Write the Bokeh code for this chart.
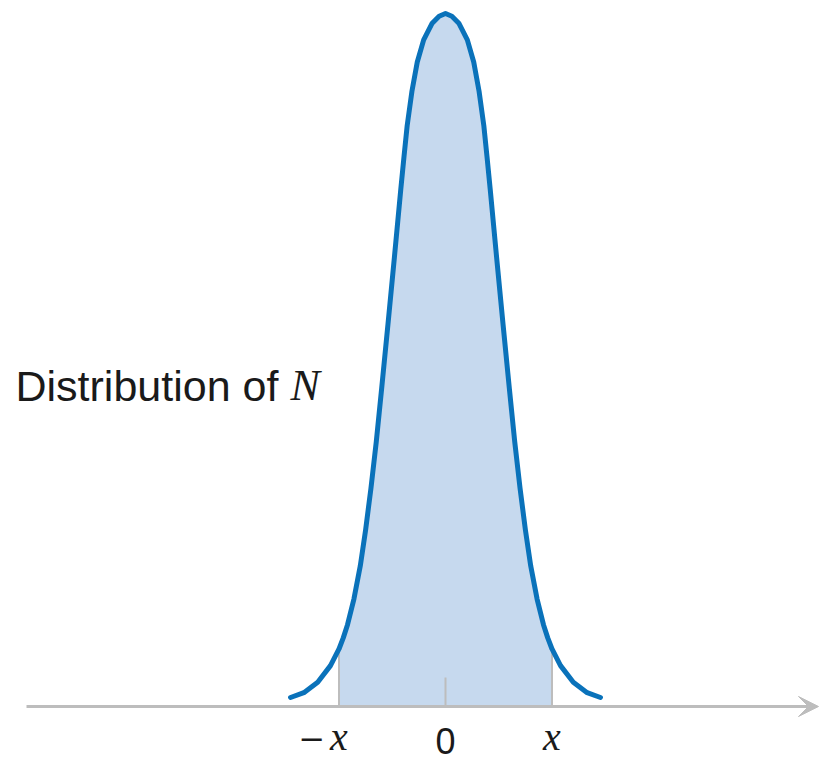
from bokeh.plotting import figure
from bokeh.models import Range1d, Arrow, VeeHead
from bokeh.core.properties import value
from bokeh.embed import file_html
from bokeh.resources import INLINE

# Density curve of N (symmetric about 0), right half: offset from the mean
# in units of x, and height relative to the peak.
curve_offset = [0.000, 0.060, 0.125, 0.205, 0.265, 0.315, 0.360, 0.390, 0.420,
                0.480, 0.540, 0.600, 0.650, 0.700, 0.750, 0.800, 0.860, 0.920,
                0.960, 1.000, 1.080, 1.200, 1.330, 1.455]
curve_height = [1.000, 0.996, 0.986, 0.962, 0.930, 0.888, 0.838, 0.793, 0.746,
                0.648, 0.552, 0.458, 0.382, 0.315, 0.255, 0.203, 0.155, 0.118,
                0.099, 0.083, 0.059, 0.035, 0.020, 0.013]

# Marked points on the horizontal axis
tick_values = [-1, 0, 1]
tick_signs = ["−", "", ""]
tick_symbols = ["x", "0", "x"]
shade_limit = 1.0  # area between -x and x is shaded

title_text = "Distribution of "
title_symbol = "N"

# full curve, mirrored about the mean
xs = [-o for o in reversed(curve_offset[1:])] + curve_offset
hs = list(reversed(curve_height[1:])) + curve_height

shade_x = [x for x in xs if -shade_limit <= x <= shade_limit]
shade_h = [h for x, h in zip(xs, hs) if -shade_limit <= x <= shade_limit]
edges = [v for v in tick_values if v != 0]
edge_h = [hs[xs.index(v)] for v in edges]

# canvas geometry (pixels)
W, H = 833, 761
ORIGIN_X, BASE_Y = 445.0, 706.0
PX_PER_X, PX_PER_H = 106.5, 693.0
BASELINE_SHIFT = 0.4  # svg text sits this many em below the requested baseline


def dx(px):
    return (px - ORIGIN_X) / PX_PER_X


def dy(py, size=0):
    return (BASE_Y - (py - BASELINE_SHIFT * size)) / PX_PER_H


BLUE = "#0a72ba"
FILL = "#c6d9ee"
GREY = "#bdbdbd"
INK = "#1a1a1a"

p = figure(width=W, height=H, x_range=Range1d(dx(0), dx(W)),
           y_range=Range1d(dy(H), dy(0)), x_axis_type=None, y_axis_type=None,
           toolbar_location=None, output_backend="svg", min_border=0)
p.outline_line_color = None
p.grid.visible = False
p.background_fill_color = "white"
p.border_fill_color = "white"

# shaded area between -x and x
p.varea(x=shade_x, y1=[0] * len(shade_x), y2=shade_h, fill_color=FILL)

# vertical guides at -x and x, and the short tick at 0
p.segment(x0=edges, y0=[0] * len(edges), x1=edges, y1=edge_h,
          line_color=GREY, line_width=2)
p.segment(x0=[0], y0=[0], x1=[0], y1=[29 / PX_PER_H], line_color=GREY, line_width=2)

# horizontal axis with arrow head
p.add_layout(Arrow(end=VeeHead(size=20, fill_color=GREY, line_color=GREY, line_width=1),
                   x_start=dx(26), y_start=0, x_end=dx(818), y_end=0,
                   line_color=GREY, line_width=3))

# density curve
p.line(xs, hs, line_color=BLUE, line_width=5, line_cap="round", line_join="round")

# tick labels
for v, sign, sym in zip(tick_values, tick_signs, tick_symbols):
    if sym == "0":
        p.text(x=[v], y=[dy(755, 36)], text=[sym], text_align="center",
               text_baseline="alphabetic", text_font=value("Liberation Sans"),
               text_font_size="36px", text_color=INK)
    else:
        p.text(x=[v], y=[dy(752, 40)], text=[sym], text_align="center",
               text_baseline="alphabetic", text_font=value("Liberation Serif"),
               text_font_style="italic", text_font_size="40px", text_color=INK)
    if sign:
        p.text(x=[v - 27 / PX_PER_X], y=[dy(751, 32)], text=[sign], text_align="center",
               text_baseline="alphabetic", text_font=value("DejaVu Serif"),
               text_font_size="32px", text_color=INK)

# label of the curve
p.text(x=[dx(15)], y=[dy(403, 43)], text=[title_text], text_align="left",
       text_baseline="alphabetic", text_font=value("Liberation Sans"),
       text_font_size="43px", text_color=INK)
p.text(x=[dx(290)], y=[dy(403, 44)], text=[title_symbol], text_align="left",
       text_baseline="alphabetic", text_font=value("Liberation Serif"),
       text_font_style="italic", text_font_size="44px", text_color=INK)

open("out.html", "w").write(file_html(p, INLINE))
